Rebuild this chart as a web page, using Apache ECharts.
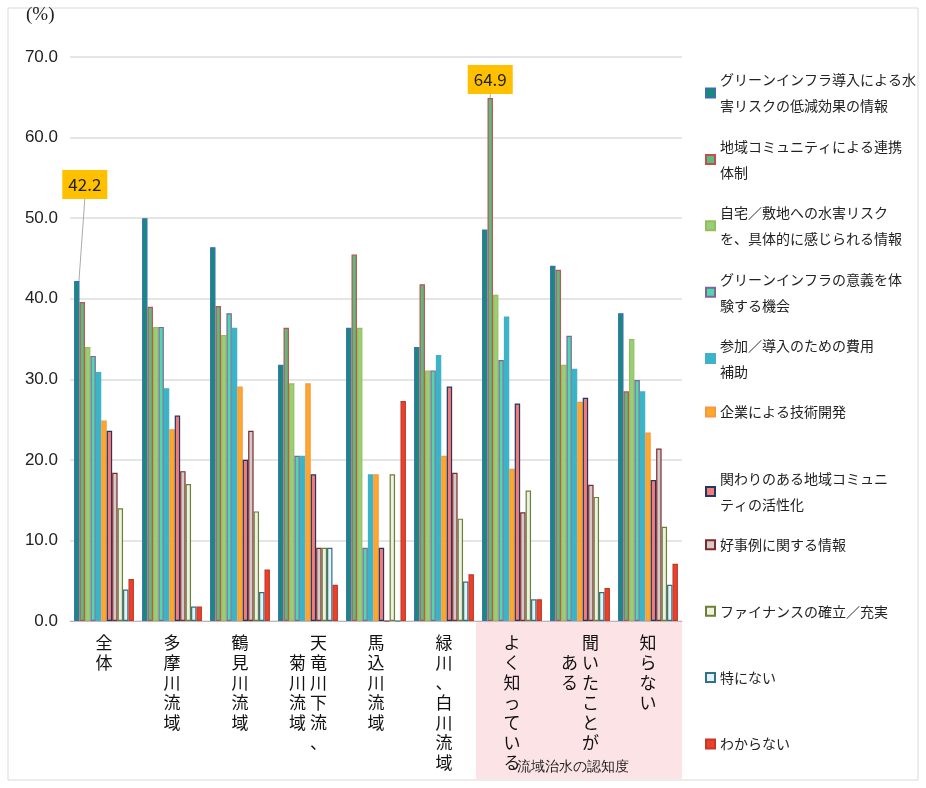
<!DOCTYPE html>
<html>
<head>
<meta charset="utf-8">
<script src="https://cdn.jsdelivr.net/npm/echarts@6/dist/echarts.min.js"></script>
<style>html,body{margin:0;padding:0;background:#fff}#chart{width:926px;height:788px}</style>
</head>
<body>
<div id="chart"></div>
<script>
// categories (vertical text, right column first)
var categories = ['全\n体', '多\n摩\n川\n流\n域', '鶴\n見\n川\n流\n域',
  '　 天\n菊 竜\n川 川\n流 下\n域 流\n　 、', '馬\n込\n川\n流\n域',
  '緑\n川\n、\n白\n川\n流\n域', 'よ\nく\n知\nっ\nて\nい\nる', '　 聞\nあ い\nる た\n　 こ\n　 と\n　 が', '知\nら\nな\nい'];
var seriesNames = ['グリーンインフラ導入による水\n害リスクの低減効果の情報', '地域コミュニティによる連携\n体制',
  '自宅／敷地への水害リスク\nを、具体的に感じられる情報', 'グリーンインフラの意義を体\n験する機会', '参加／導入のための費用\n補助',
  '企業による技術開発', '関わりのある地域コミュニ\nティの活性化', '好事例に関する情報', 'ファイナンスの確立／充実', '特にない', 'わからない'];
var s1 = [42.2, 50.0, 46.4, 31.8, 36.4, 34.0, 48.6, 44.1, 38.2];
var s2 = [39.6, 39.0, 39.1, 36.4, 45.5, 41.8, 64.9, 43.6, 28.5];
var s3 = [34.0, 36.5, 35.5, 29.5, 36.4, 31.1, 40.5, 31.8, 35.0];
var s4 = [32.9, 36.5, 38.2, 20.5, 9.1, 31.1, 32.4, 35.4, 29.9];
var s5 = [30.9, 28.9, 36.4, 20.5, 18.2, 33.0, 37.8, 31.3, 28.5];
var s6 = [24.9, 23.8, 29.1, 29.5, 18.2, 20.5, 18.9, 27.2, 23.4];
var s7 = [23.6, 25.5, 20.0, 18.2, 9.1, 29.1, 27.0, 27.7, 17.5];
var s8 = [18.4, 18.6, 23.6, 9.1, 0, 18.4, 13.5, 16.9, 21.4];
var s9 = [14.0, 17.0, 13.6, 9.1, 18.2, 12.7, 16.2, 15.4, 11.7];
var s10 = [3.9, 1.8, 3.6, 9.1, 0, 4.9, 2.7, 3.6, 4.5];
var s11 = [5.2, 1.8, 6.4, 4.5, 27.3, 5.8, 2.7, 4.1, 7.1];
var allData = [s1, s2, s3, s4, s5, s6, s7, s8, s9, s10, s11];
var fills = ['#138C7A', '#5CBB80', '#93D17A', '#4ED9A8', '#33B8C9', '#FFAA25', '#F27B78', '#D3CBCB', '#ECF1E2', '#E2F4F8', '#EE4029'];
var borders = ['#3A6FB0', '#C0504D', '#9BBB59', '#8064A2', '#4BACC6', '#F79646', '#1F3864', '#7F2A2A', '#6B7F35', '#31708A', '#C0392B'];
// highlighted values: [series index, category index, vertical shift]
var callouts = [[0, 0, -78], [1, 6, 0]];

function isCallout(si, di) {
  return callouts.some(function (c) { return c[0] === si && c[1] === di; });
}

var chart = echarts.init(document.getElementById('chart'));
var series = allData.map(function (d, i) {
  return {
    name: seriesNames[i], type: 'bar', barGap: 0, barCategoryGap: '12%',
    itemStyle: { color: fills[i], borderColor: borders[i], borderWidth: 1.2 },
    data: d.map(function (v, j) {
      return isCallout(i, j) ? { value: v, label: { show: true } } : v;
    }),
    label: { show: false, position: 'top', distance: 4, backgroundColor: '#FFC000', color: '#222', fontSize: 17, padding: [6, 6], formatter: function (p) { return p.value.toFixed(1); } },
    labelLine: { show: true, lineStyle: { color: '#aaa', width: 1 } },
    labelLayout: function (p) {
      for (var k = 0; k < callouts.length; k++) {
        if (callouts[k][0] === p.seriesIndex && callouts[k][1] === p.dataIndex) return { dy: callouts[k][2], dx: callouts[k][2] ? 8 : 0 };
      }
      return {};
    }
  };
});
var legends = seriesNames.map(function (n, i) {
  return {
    data: [n], left: 700, top: 62 + i * 66.4, orient: 'vertical', itemWidth: 9, itemHeight: 9, icon: 'rect',
    textStyle: { fontSize: 14, color: '#222', lineHeight: 26, fontFamily: 'Noto Sans CJK JP' }
  };
});
chart.setOption({
  animation: false,
  textStyle: { fontFamily: 'Noto Sans CJK JP' },
  grid: { left: 70, right: 244, top: 57, bottom: 167 },
  legend: legends,
  graphic: [
    { type: 'rect', shape: { x: 8, y: 8, width: 910, height: 772 }, style: { fill: 'none', stroke: '#d9d9d9' } },
    { type: 'rect', shape: { x: 476, y: 622, width: 206, height: 157 }, style: { fill: '#FCE4E6' }, z: -1 },
    { type: 'text', left: 517, top: 760, style: { text: '流域治水の認知度', fontSize: 14, fill: '#222' } },
    { type: 'text', left: 26, top: 6, style: { text: '(%)', fontSize: 19, fill: '#222', fontFamily: 'Liberation Serif' } }
  ],
  xAxis: {
    type: 'category', data: categories,
    axisLine: { lineStyle: { color: '#bbb' } }, axisTick: { show: false },
    axisLabel: { color: '#111', fontSize: 17, lineHeight: 20, verticalAlign: 'top', margin: 12 }
  },
  yAxis: {
    type: 'value', min: 0, max: 70, interval: 10,
    axisLabel: { formatter: function (v) { return v.toFixed(1); }, fontSize: 17, color: '#222', fontFamily: 'Liberation Sans', margin: 12 },
    splitLine: { lineStyle: { color: '#ddd', width: 1.5 } }
  },
  series: series
});
</script>
</body>
</html>
